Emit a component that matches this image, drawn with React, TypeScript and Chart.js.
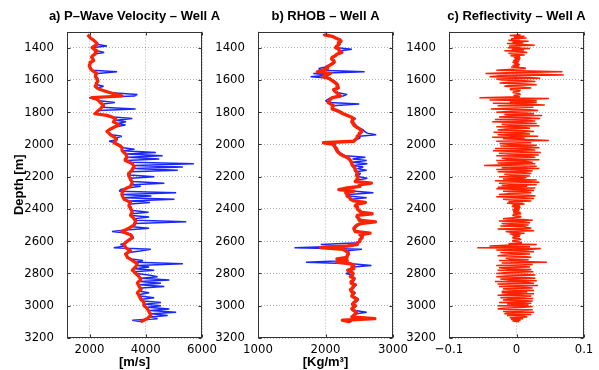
import React, { useEffect, useRef } from 'react';
import { Chart, registerables } from 'chart.js';

Chart.register(...registerables);

// Log sampling: first sample depth and intervals (m)
const DEPTH_TOP = 1320;
const LOG_STEP = 10;
const REFL_STEP = 5;

const depthTicks = [1400, 1600, 1800, 2000, 2200, 2400, 2600, 2800, 3000, 3200];
const vpTicks = [2000, 4000, 6000];
const rhoTicks = [1000, 2000, 3000];
const reflTicks = [-0.1, 0, 0.1];

// P-wave velocity, raw log (m/s)
const vpRaw = [
  1950, 2010, 2000, 2140, 2210, 2270, 2300, 2620, 2060, 2190,
  2300, 2520, 2180, 2090, 2100, 2150, 2120, 2030, 2040, 1970,
  2030, 2050, 2110, 2980, 2280, 2200, 2240, 2300, 2260, 2330,
  2230, 2270, 2500, 2290, 2410, 2600, 2800, 3700, 3600, 1990,
  2280, 2350, 2900, 2480, 2530, 2420, 3640, 2330, 2240, 2160,
  2660, 2850, 3520, 2950, 3300, 3000, 3280, 2940, 2830, 2720,
  2600, 2720, 2790, 3150, 2950, 3000, 2700, 2920, 3050, 3120,
  3200, 3600, 3180, 4360, 3320, 4600, 3380, 4480, 3300, 3480,
  5710, 3600, 5320, 3580, 5140, 3480, 3440, 3420, 4300, 3470,
  3500, 3540, 4660, 3510, 3820, 3350, 3100, 3060, 5080, 3180,
  4200, 3230, 5020, 3400, 4150, 3450, 3430, 3470, 3500, 3540,
  4100, 3500, 3500, 4120, 3620, 3660, 5440, 3640, 3620, 3520,
  4120, 3300, 2800, 3350, 3500, 3540, 3560, 3450, 3380, 3300,
  3100, 3300, 2860, 4180, 3800, 3400, 3310, 3350, 3380, 3480,
  3900, 3660, 5320, 3700, 4120, 3600, 4300, 3620, 3680, 4100,
  4420, 3840, 4840, 3800, 4540, 3790, 4660, 3840, 3860, 3790,
  4120, 3780, 3800, 4300, 3860, 3920, 4540, 3960, 4540, 4060,
  4840, 4150, 5080, 4200, 4780, 4160, 4420, 3520, 3870,
];

// P-wave velocity, smoothed log (m/s)
const vpSmooth = [
  1930, 1990, 2030, 2110, 2190, 2240, 2270, 2170, 2090, 2160,
  2270, 2220, 2200, 2110, 2070, 2120, 2150, 2050, 2020, 1990,
  2010, 2030, 2090, 2170, 2260, 2220, 2210, 2250, 2270, 2290,
  2250, 2240, 2200, 2270, 2380, 2560, 2740, 2950, 3160, 2080,
  2260, 2330, 2380, 2450, 2500, 2430, 2390, 2310, 2260, 2190,
  2620, 2790, 2930, 2890, 2850, 2960, 3040, 2910, 2800, 2690,
  2620, 2690, 2740, 2840, 2920, 2950, 2910, 2870, 2980, 3090,
  3160, 3150, 3170, 3220, 3290, 3310, 3340, 3290, 3270, 3410,
  3520, 3560, 3590, 3540, 3520, 3450, 3400, 3390, 3410, 3440,
  3460, 3500, 3520, 3480, 3460, 3330, 3220, 3190, 3160, 3150,
  3170, 3200, 3230, 3350, 3460, 3420, 3400, 3440, 3460, 3500,
  3520, 3480, 3460, 3530, 3580, 3620, 3640, 3600, 3580, 3480,
  3400, 3270, 3150, 3310, 3460, 3500, 3520, 3420, 3340, 3270,
  3220, 3260, 3280, 3380, 3460, 3360, 3280, 3320, 3340, 3440,
  3520, 3620, 3700, 3660, 3640, 3570, 3520, 3590, 3640, 3710,
  3760, 3800, 3820, 3750, 3700, 3740, 3760, 3800, 3820, 3750,
  3700, 3740, 3760, 3800, 3820, 3890, 3940, 3930, 3940, 4010,
  4060, 4100, 4120, 4160, 4180, 4110, 4060, 3930, 3820,
];

// Bulk density, raw log (kg/m3)
const rhoRaw = [
  1960, 2120, 2140, 2230, 2210, 2200, 2220, 2150, 2170, 2390,
  2220, 2260, 2160, 2130, 2120, 2080, 2140, 2110, 2120, 2040,
  2000, 1900, 1930, 2580, 1820, 2050, 1780, 2070, 2100, 2140,
  2170, 2160, 2200, 2170, 2140, 2120, 2190, 2320, 2260, 2080,
  2040, 2000, 2060, 2500, 2100, 2090, 2120, 2150, 2250, 2240,
  2340, 2360, 2450, 2380, 2420, 2390, 2450, 2470, 2510, 2560,
  2580, 2620, 2750, 2500, 2510, 2460, 2400, 1950, 2150, 2110,
  2170, 2140, 2190, 2210, 2250, 2290, 2590, 2400, 2610, 2400,
  2620, 2420, 2560, 2470, 2610, 2450, 2520, 2490, 2500, 2620,
  2480, 2460, 2660, 2520, 2490, 2340, 2180, 2440, 2710, 2350,
  2340, 2610, 2380, 2440, 2570, 2490, 2460, 2490, 2480, 2520,
  2540, 2670, 2490, 2450, 2510, 2520, 2720, 2540, 2490, 2460,
  2440, 2410, 2460, 2630, 2530, 2560, 2520, 2530, 2490, 2490,
  1930, 2350, 1540, 2540, 2290, 2350, 2320, 2340, 2300, 2190,
  2340, 1710, 2390, 2680, 2410, 2400, 2350, 2400, 2300, 2410,
  2390, 2440, 2430, 2410, 2400, 2460, 2430, 2420, 2390, 2400,
  2440, 2420, 2410, 2450, 2490, 2470, 2440, 2420, 2460, 2430,
  2410, 2440, 2610, 2460, 2440, 2410, 2750, 2230, 2390,
];

// Bulk density, smoothed log (kg/m3)
const rhoSmooth = [
  1980, 2100, 2150, 2200, 2230, 2190, 2200, 2170, 2150, 2200,
  2200, 2240, 2170, 2150, 2100, 2090, 2120, 2130, 2100, 2060,
  2020, 2030, 1960, 1880, 2070, 2020, 1960, 2050, 2080, 2120,
  2150, 2180, 2170, 2190, 2120, 2140, 2170, 2200, 2220, 2100,
  2070, 2060, 2040, 2080, 2120, 2100, 2100, 2170, 2220, 2260,
  2320, 2380, 2420, 2400, 2390, 2410, 2420, 2450, 2490, 2520,
  2540, 2510, 2500, 2470, 2470, 2440, 2420, 1970, 2120, 2130,
  2150, 2160, 2170, 2190, 2220, 2260, 2320, 2350, 2370, 2380,
  2390, 2400, 2420, 2440, 2440, 2460, 2470, 2460, 2470, 2480,
  2460, 2440, 2680, 2500, 2510, 2320, 2200, 2420, 2300, 2330,
  2320, 2360, 2370, 2420, 2590, 2470, 2440, 2470, 2470, 2500,
  2520, 2690, 2470, 2470, 2490, 2500, 2740, 2520, 2470, 2440,
  2420, 2430, 2440, 2660, 2510, 2540, 2540, 2510, 2510, 2470,
  2470, 2330, 1930, 2260, 2300, 2330, 2340, 2320, 2320, 2170,
  2320, 2170, 2370, 2420, 2390, 2420, 2330, 2380, 2410, 2390,
  2370, 2420, 2410, 2390, 2380, 2440, 2410, 2400, 2370, 2380,
  2420, 2400, 2390, 2430, 2470, 2450, 2420, 2400, 2440, 2410,
  2390, 2420, 2460, 2440, 2420, 2390, 2730, 2250, 2370,
];

// Reflectivity series (5 m sampling)
const reflectivity = [
  0.006, -0.010, 0.012, -0.004, 0.015, -0.008, 0.005, -0.012, 0.018, -0.006, 0.010, -0.014, 0.008, 0.027, -0.011, 0.006, -0.013, 0.020, -0.007, 0.011,
  -0.018, 0.009, 0.016, -0.012, -0.006, 0.012, -0.009, 0.005, -0.004, 0.006, -0.003, 0.005, -0.005, 0.004, -0.006, 0.003, -0.004, 0.005, -0.006, 0.004,
  -0.008, 0.010, 0.014, -0.012, -0.030, 0.020, 0.068, -0.015, -0.046, 0.030, 0.070, -0.025, -0.040, 0.018, 0.035, -0.030, -0.022, 0.012, 0.028, -0.010,
  -0.025, 0.015, 0.030, -0.012, -0.018, 0.010, 0.022, -0.008, -0.010, 0.006, 0.004, -0.005, -0.005, 0.004, 0.006, -0.003, -0.004, 0.005, -0.055, 0.048,
  0.012, -0.040, 0.030, -0.010, 0.030, -0.035, 0.008, 0.042, -0.028, 0.015, 0.025, -0.012, -0.038, 0.020, 0.032, -0.008, -0.030, 0.014, 0.026, -0.018,
  0.038, -0.012, -0.026, 0.016, 0.035, -0.032, 0.010, 0.028, -0.036, 0.008, 0.030, -0.022, -0.010, 0.034, -0.030, 0.012, 0.020, -0.016, -0.028, 0.014,
  0.026, -0.034, 0.010, 0.020, -0.028, -0.008, 0.032, -0.036, 0.012, -0.020, 0.014, 0.048, -0.030, 0.008, 0.022, -0.025, -0.010, 0.030, -0.024, 0.016,
  0.034, -0.032, 0.012, 0.028, -0.035, 0.008, 0.036, -0.026, -0.012, 0.033, -0.030, 0.016, 0.028, -0.022, -0.014, 0.034, -0.030, 0.010, 0.024, -0.028,
  0.028, -0.010, -0.048, 0.030, 0.014, -0.022, 0.034, -0.030, 0.008, 0.024, -0.028, 0.012, 0.022, -0.018, -0.008, 0.020, -0.026, 0.015, 0.010, -0.020,
  0.030, -0.032, 0.012, 0.034, -0.026, -0.010, 0.030, -0.022, 0.016, -0.028, 0.028, -0.030, 0.008, 0.026, -0.020, 0.014, 0.022, -0.012, -0.026, 0.018,
  0.028, -0.030, 0.010, 0.026, -0.020, -0.008, 0.022, -0.012, 0.010, -0.014, 0.012, -0.006, 0.005, -0.007, 0.006, -0.004, 0.005, -0.006, 0.004, -0.005,
  0.006, -0.005, 0.007, -0.004, -0.006, 0.005, 0.007, -0.006, -0.020, 0.010, 0.024, -0.026, 0.008, 0.020, -0.022, -0.010, 0.018, -0.024, 0.012, 0.016,
  0.022, -0.028, 0.010, 0.026, -0.016, -0.008, 0.012, -0.010, 0.006, -0.006, 0.005, -0.004, -0.006, 0.005, 0.007, -0.005, -0.006, 0.004, 0.008, -0.012,
  0.030, -0.015, -0.040, 0.020, -0.058, 0.036, 0.024, -0.030, 0.012, 0.026, -0.024, -0.010, 0.020, -0.018, -0.028, 0.012, 0.022, -0.016, -0.010, 0.018,
  -0.026, 0.010, 0.045, -0.022, 0.014, 0.024, -0.030, 0.008, 0.020, -0.026, -0.012, 0.022, -0.028, 0.010, 0.025, -0.018, -0.030, 0.012, 0.028, -0.016,
  -0.030, 0.014, 0.028, -0.024, -0.010, 0.030, -0.032, 0.012, 0.026, -0.028, -0.014, 0.032, -0.026, 0.010, 0.024, -0.020, -0.012, 0.026, -0.022, 0.016,
  -0.022, 0.026, -0.010, -0.028, 0.022, 0.012, -0.024, 0.025, -0.008, -0.020, 0.024, 0.010, -0.026, 0.022, -0.014, 0.018, -0.028, 0.024, 0.012, -0.020,
  -0.028, 0.024, 0.008, -0.020, 0.026, -0.012, -0.018, 0.022, -0.014, 0.010, 0.016, -0.010, 0.010, -0.008, 0.006, -0.006, 0.004,
];

const RED = 'rgb(255,34,0)';
const BLUE = 'rgb(25,40,255)';
const AXIS = '#333333';
const GRID = 'rgba(0,0,0,0.3)';
const TICK_FONT = '"Liberation Sans Narrow", "DejaVu Sans Condensed", "Liberation Sans", sans-serif';
const BOLD_FONT = '"Liberation Sans", Arial, sans-serif';

const toPoints = (vals: number[], step: number) =>
  vals.map((v, i) => ({ x: v, y: DEPTH_TOP + i * step }));

const fmtTick = (v: number) => (v < 0 ? '\u2212' + String(Math.abs(v)) : String(v));

// Box around the axes plus short inward tick marks on all four sides
const axesFrame = {
  id: 'axesFrame',
  afterDatasetsDraw(chart: any) {
    const { ctx, chartArea, scales } = chart;
    const l = Math.round(chartArea.left) + 0.5;
    const r = Math.round(chartArea.right) - 0.5;
    const t = Math.round(chartArea.top) + 0.5;
    const b = Math.round(chartArea.bottom) - 0.5;
    ctx.save();
    ctx.strokeStyle = AXIS;
    ctx.lineWidth = 1;
    ctx.setLineDash([]);
    ctx.strokeRect(l, t, r - l, b - t);
    ctx.beginPath();
    const len = 3;
    for (const tk of scales.x.ticks) {
      const px = Math.round(scales.x.getPixelForValue(tk.value)) + 0.5;
      ctx.moveTo(px, b); ctx.lineTo(px, b - len);
      ctx.moveTo(px, t); ctx.lineTo(px, t + len);
    }
    for (const tk of scales.y.ticks) {
      const py = Math.round(scales.y.getPixelForValue(tk.value)) + 0.5;
      ctx.moveTo(l, py); ctx.lineTo(l + len, py);
      ctx.moveTo(r, py); ctx.lineTo(r - len, py);
    }
    ctx.stroke();
    ctx.restore();
  },
};

// Panel heading centred over the plotting area (may be wider than it)
const panelTitle = {
  id: 'panelTitle',
  afterDraw(chart: any, _args: any, opts: any) {
    if (!opts || !opts.text) return;
    const { ctx, chartArea } = chart;
    ctx.save();
    ctx.font = 'bold 13px ' + BOLD_FONT;
    ctx.fillStyle = '#000';
    ctx.textAlign = 'center';
    ctx.textBaseline = 'middle';
    ctx.fillText(opts.text, (chartArea.left + chartArea.right) / 2, opts.y);
    ctx.restore();
  },
};

type PanelSpec = {
  title: string;
  xTitle: string;
  xMin: number;
  xMax: number;
  xTicks: number[];
  yTitle?: string;
  yWidth: number;
  padRight: number;
  datasets: any[];
};

function buildConfig(p: PanelSpec): any {
  return {
    type: 'scatter',
    data: { datasets: p.datasets },
    plugins: [axesFrame, panelTitle],
    options: {
      animation: false,
      responsive: false,
      events: [],
      layout: { padding: { left: 0, right: p.padRight, top: 31.5, bottom: 0 } },
      plugins: {
        legend: { display: false },
        tooltip: { enabled: false },
        title: { display: false },
        panelTitle: { text: p.title, y: 16.5 },
      },
      scales: {
        x: {
          type: 'linear',
          min: p.xMin,
          max: p.xMax,
          afterBuildTicks: (s: any) => { s.ticks = p.xTicks.map((v) => ({ value: v })); },
          afterFit: (s: any) => { s.height = 32; },
          ticks: {
            autoSkip: false,
            maxRotation: 0,
            padding: 4,
            color: '#000',
            font: { family: TICK_FONT, size: 13 },
            callback: (v: any) => fmtTick(Number(v)),
          },
          grid: { color: GRID, lineWidth: 1, drawTicks: false },
          border: { display: false, dash: [1, 2] },
          title: {
            display: !!p.xTitle,
            text: p.xTitle,
            color: '#000',
            font: { family: BOLD_FONT, size: 13, weight: 'bold', lineHeight: 1.2 },
            padding: { top: 0, bottom: 0 },
          },
        },
        y: {
          type: 'linear',
          reverse: true,
          min: 1300,
          max: 3200,
          afterBuildTicks: (s: any) => { s.ticks = depthTicks.map((v) => ({ value: v })); },
          afterFit: (s: any) => { s.width = p.yWidth; },
          ticks: {
            autoSkip: false,
            padding: 13,
            color: '#000',
            font: { family: TICK_FONT, size: 13 },
            callback: (v: any) => String(v),
          },
          grid: { color: GRID, lineWidth: 1, drawTicks: false },
          border: { display: false, dash: [1, 2] },
          title: {
            display: !!p.yTitle,
            text: p.yTitle || '',
            color: '#000',
            font: { family: BOLD_FONT, size: 13, weight: 'bold', lineHeight: 1.2 },
            padding: { top: 12, bottom: 0 },
          },
        },
      },
    },
  };
}

const lineSet = (vals: number[], step: number, color: string, width: number, join: string) => ({
  data: toPoints(vals, step),
  showLine: true,
  borderColor: color,
  backgroundColor: color,
  borderWidth: width,
  pointRadius: 0,
  tension: 0,
  borderJoinStyle: join,
  fill: false,
});

const panels: { left: number; width: number; spec: PanelSpec }[] = [
  {
    left: 0,
    width: 230,
    spec: {
      title: 'a) P\u2013Wave Velocity \u2013 Well A',
      xTitle: '[m/s]',
      xMin: 1200,
      xMax: 6000,
      xTicks: vpTicks,
      yTitle: 'Depth [m]',
      yWidth: 67,
      padRight: 28,
      datasets: [
        lineSet(vpSmooth, LOG_STEP, RED, 3.2, 'round'),
        lineSet(vpRaw, LOG_STEP, BLUE, 1.5, 'bevel'),
      ],
    },
  },
  {
    left: 200,
    width: 215,
    spec: {
      title: 'b) RHOB \u2013 Well A',
      xTitle: '[Kg/m\u00B3]',
      xMin: 1000,
      xMax: 3000,
      xTicks: rhoTicks,
      yWidth: 58,
      padRight: 22,
      datasets: [
        lineSet(rhoSmooth, LOG_STEP, RED, 3.4, 'round'),
        lineSet(rhoRaw, LOG_STEP, BLUE, 1.5, 'bevel'),
      ],
    },
  },
  {
    left: 395,
    width: 204,
    spec: {
      title: 'c) Reflectivity \u2013 Well A',
      xTitle: '',
      xMin: -0.1,
      xMax: 0.1,
      xTicks: reflTicks,
      yWidth: 54,
      padRight: 15,
      datasets: [lineSet(reflectivity, REFL_STEP, RED, 1.5, 'bevel')],
    },
  },
];

const HEIGHT = 370;

export default function App() {
  const refs = [useRef<HTMLCanvasElement>(null), useRef<HTMLCanvasElement>(null), useRef<HTMLCanvasElement>(null)];

  useEffect(() => {
    const charts: Chart[] = [];
    panels.forEach((p, i) => {
      const cv = refs[i].current;
      if (!cv) return;
      charts.push(new Chart(cv, buildConfig(p.spec)));
    });
    return () => charts.forEach((c) => c.destroy());
  }, []);

  return (
    <div style={{ position: 'fixed', left: 0, top: 0, width: 599, height: HEIGHT, background: '#fff', overflow: 'hidden' }}>
      {panels.map((p, i) => (
        <canvas
          key={i}
          ref={refs[i]}
          width={p.width}
          height={HEIGHT}
          style={{ position: 'absolute', left: p.left, top: 0, width: p.width, height: HEIGHT }}
        />
      ))}
    </div>
  );
}
